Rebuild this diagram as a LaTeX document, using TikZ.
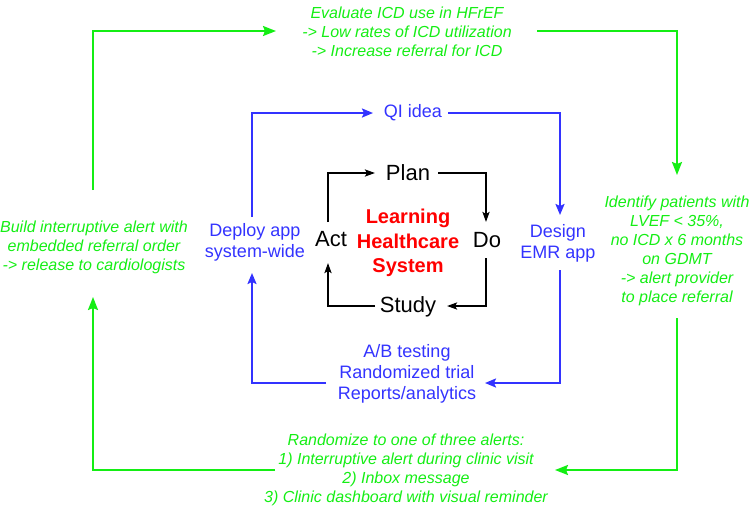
\documentclass[tikz,border=0pt]{standalone}
\usepackage{fontspec}
\setmainfont{Liberation Sans}
\usetikzlibrary{arrows.meta,calc}
\definecolor{gr}{RGB}{20,238,20}
\definecolor{bl}{RGB}{51,51,255}
\definecolor{rd}{RGB}{255,0,0}
\begin{document}
\begin{tikzpicture}[x=1pt,y=-1pt,
  gtext/.style={text=gr,font=\itshape\fontsize{16}{19}\selectfont,align=center,inner sep=0pt},
  btext/.style={text=bl,font=\fontsize{18}{21}\selectfont,align=center,inner sep=0pt},
  ktext/.style={text=black,font=\fontsize{22}{26}\selectfont,inner sep=0pt},
  rtext/.style={text=rd,font=\bfseries\fontsize{20}{24.5}\selectfont,align=center,inner sep=0pt},
  garr/.style={draw=gr,line width=2pt,-{Stealth[length=13pt,width=10pt,inset=2pt]}},
  barr/.style={draw=bl,line width=2pt,-{Stealth[length=11pt,width=9pt,inset=2pt]}},
  karr/.style={draw=black,line width=2pt,-{Stealth[length=10pt,width=7pt,inset=2pt]}}
]
\useasboundingbox (0,0) rectangle (750,507);
% green outer loop
\node[gtext] (T) at (407,31.5) {Evaluate ICD use in HFrEF\\-> Low rates of ICD utilization\\-> Increase referral for ICD};
\node[gtext] (R) at (677,251) {Identify patients with\\LVEF < 35\%,\\no ICD x 6 months\\on GDMT\\-> alert provider\\to place referral};
\node[gtext] (B) at (406,469.5) {Randomize to one of three alerts:\\1) Interruptive alert during clinic visit\\2) Inbox message\\3) Clinic dashboard with visual reminder};
\node[gtext] (L) at (94,247) {Build interruptive alert with\\embedded referral order\\-> release to cardiologists};
% blue loop
\node[btext] (Q) at (413,113) {QI idea};
\node[btext] (E) at (558,243) {Design\\EMR app};
\node[btext] (A) at (407,374) {A/B testing\\Randomized trial\\Reports/analytics};
\node[btext] (D) at (255,242.5) {Deploy app\\system-wide};
% black PDSA loop
\node[ktext] (P) at (408,173) {Plan};
\node[ktext] (O) at (487,240) {Do};
\node[ktext] (S) at (408,307) {Study};
\node[ktext] (C) at (331,239) {Act};
\node[rtext] (H) at (408,243) {Learning\\Healthcare\\System};
% green connectors
\draw[garr] ($(L)+(-1,-57)$) |- ($(T)+(-131,-0.5)$);
\draw[garr] ($(T)+(130,-0.5)$) -| ($(R)+(0,-76)$);
\draw[garr] ($(R)+(0,67)$) |- ($(B)+(149,0.5)$);
\draw[garr] ($(B)+(-131,0.5)$) -| ($(L)+(-1,50)$);
% blue connectors
\draw[barr] ($(D)+(-3,-25.5)$) |- ($(Q)+(-40,0)$);
\draw[barr] ($(Q)+(35,0)$) -| ($(E)+(2,-28)$);
\draw[barr] ($(E)+(2,27)$) |- ($(A)+(78,9)$);
\draw[barr] ($(A)+(-81,9)$) -| ($(D)+(-3,30.5)$);
% black connectors
\draw[karr] ($(C)+(-3,-17)$) |- ($(P)+(-33,0)$);
\draw[karr] ($(P)+(30,0)$) -| ($(O)+(-1,-18)$);
\draw[karr] ($(O)+(-1,18)$) |- ($(S)+(39,-1)$);
\draw[karr] ($(S)+(-33,-1)$) -| ($(C)+(-3,24)$);
\end{tikzpicture}
\end{document}
